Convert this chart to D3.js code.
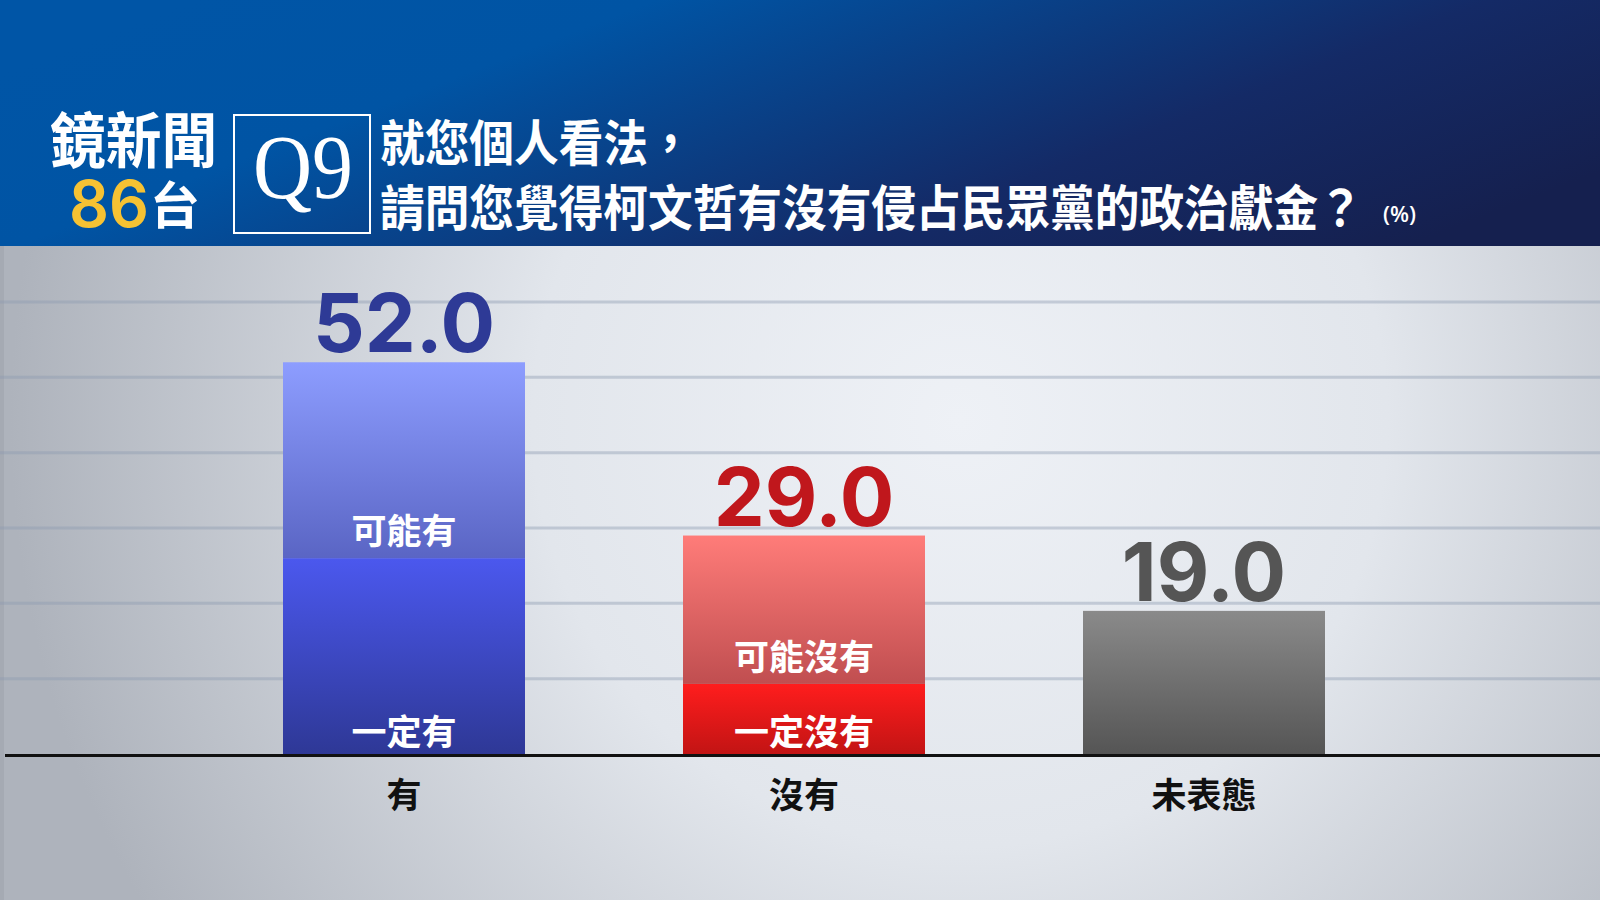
<!DOCTYPE html>
<html>
<head>
<meta charset="utf-8">
<script src="https://cdn.jsdelivr.net/npm/d3@7/dist/d3.min.js"></script>
<style>
  html, body { margin: 0; padding: 0; background: #ffffff; }
  svg { display: block; }
</style>
</head>
<body>
<div id="chart"></div>
<script>
// ---------- data ----------
const categories = ["有", "沒有", "未表態"];
const totals = [52.0, 29.0, 19.0];
const definiteValues = [26.0, 9.3, 19.0];   // bottom segment
const possibleValues = [26.0, 19.7, 0];     // top segment
const definiteLabels = ["一定有", "一定沒有", ""];
const possibleLabels = ["可能有", "可能沒有", ""];
const gridTicks = [10, 20, 30, 40, 50, 60];
const titleLine1 = "就您個人看法，";
const titleLine2 = "請問您覺得柯文哲有沒有侵占民眾黨的政治獻金？";
const unitLabel = "(%)";

// ---------- setup ----------
const W = 1600, H = 900;
const svg = d3.select("#chart").append("svg").attr("width", W).attr("height", H);
const defs = svg.append("defs");

function vGrad(id, top, bottom) {
  const g = defs.append("linearGradient").attr("id", id)
    .attr("x1", 0).attr("y1", 0).attr("x2", 0).attr("y2", 1);
  g.append("stop").attr("offset", "0%").attr("stop-color", top);
  g.append("stop").attr("offset", "100%").attr("stop-color", bottom);
}
vGrad("gPossible0", "#8D9DFF", "#5A65C4");
vGrad("gDefinite0", "#4B58EE", "#2E3896");
vGrad("gPossible1", "#FF7C79", "#C04E50");
vGrad("gDefinite1", "#FF1D1D", "#C21414");
vGrad("gDefinite2", "#8A8A8A", "#555555");

const hdr = defs.append("linearGradient").attr("id", "hdr")
  .attr("x1", 0).attr("y1", 0.3).attr("x2", 1).attr("y2", 0.7);
hdr.append("stop").attr("offset", "0%").attr("stop-color", "#0055A6");
hdr.append("stop").attr("offset", "25%").attr("stop-color", "#0054A4");
hdr.append("stop").attr("offset", "70%").attr("stop-color", "#142A66");
hdr.append("stop").attr("offset", "100%").attr("stop-color", "#15204F");

const bg = defs.append("radialGradient").attr("id", "bg")
  .attr("gradientUnits", "userSpaceOnUse")
  .attr("cx", 960).attr("cy", 420).attr("r", 950);
bg.append("stop").attr("offset", "0%").attr("stop-color", "#EEF1F6");
bg.append("stop").attr("offset", "45%").attr("stop-color", "#E2E6EC");
bg.append("stop").attr("offset", "100%").attr("stop-color", "#AEB3BC");

// background panel
svg.append("rect").attr("x", 0).attr("y", 0).attr("width", W).attr("height", H).attr("fill", "url(#bg)");
svg.append("rect").attr("x", 0).attr("y", 246).attr("width", 4).attr("height", H - 246)
  .attr("fill", "#9EA4AD").attr("opacity", 0.6);

// ---------- scales ----------
const y = d3.scaleLinear().domain([0, 60]).range([754, 302]);
const x = d3.scaleBand().domain(categories).range([204, 1404])
  .paddingInner(0.395).paddingOuter(0.1975);

// gridlines
svg.append("g").selectAll("line").data(gridTicks).join("line")
  .attr("x1", 0).attr("x2", W)
  .attr("y1", d => y(d)).attr("y2", d => y(d))
  .attr("stroke", "#8C9BB0").attr("stroke-opacity", 0.42).attr("stroke-width", 3);

// ---------- bars ----------
const cjk = "'Noto Sans CJK TC', 'Noto Sans CJK SC', sans-serif";
const gBars = svg.append("g");
categories.forEach((c, i) => {
  const x0 = x(c), bw = x.bandwidth(), cx = x0 + bw / 2;
  const d = definiteValues[i], p = possibleValues[i];
  gBars.append("rect").attr("x", x0).attr("width", bw)
    .attr("y", y(d)).attr("height", y(0) - y(d))
    .attr("fill", `url(#gDefinite${i})`);
  if (p > 0) {
    gBars.append("rect").attr("x", x0).attr("width", bw)
      .attr("y", y(d + p)).attr("height", y(d) - y(d + p))
      .attr("fill", `url(#gPossible${i})`);
  }
  if (definiteLabels[i]) {
    gBars.append("text").attr("x", cx).attr("y", y(0) - 9)
      .attr("text-anchor", "middle")
      .style("font-family", cjk)
      .style("font-weight", 700).style("font-size", "35px").attr("fill", "#ffffff")
      .text(definiteLabels[i]);
  }
  if (possibleLabels[i]) {
    gBars.append("text").attr("x", cx).attr("y", y(d) - 14)
      .attr("text-anchor", "middle")
      .style("font-family", cjk)
      .style("font-weight", 700).style("font-size", "35px").attr("fill", "#ffffff")
      .text(possibleLabels[i]);
  }
});

// value labels
const valueColors = ["#2E3A96", "#C0171C", "#555555"];
svg.append("g").selectAll("text").data(categories).join("text")
  .attr("x", c => x(c) + x.bandwidth() / 2)
  .attr("y", (c, i) => y(totals[i]) - 10)
  .attr("text-anchor", "middle")
  .style("font-family", "Inter, 'Open Sans', sans-serif")
  .style("font-weight", 700).style("font-size", "81px")
  .attr("fill", (c, i) => valueColors[i])
  .text((c, i) => totals[i].toFixed(1));

// baseline
svg.append("line").attr("x1", 5).attr("x2", W)
  .attr("y1", y(0) + 1.5).attr("y2", y(0) + 1.5)
  .attr("stroke", "#111111").attr("stroke-width", 3);

// category axis labels
svg.append("g").selectAll("text").data(categories).join("text")
  .attr("x", c => x(c) + x.bandwidth() / 2)
  .attr("y", 808)
  .attr("text-anchor", "middle")
  .style("font-family", cjk)
  .style("font-weight", 700).style("font-size", "35px").attr("fill", "#111111")
  .text(c => c);

// ---------- header ----------
svg.append("rect").attr("x", 0).attr("y", 0).attr("width", W).attr("height", 246).attr("fill", "url(#hdr)");

svg.append("text").attr("transform", "translate(50,163) scale(0.93,1)")
  .style("font-family", cjk).style("font-weight", 700).style("font-size", "60px")
  .attr("fill", "#ffffff").text("鏡新聞");
svg.append("text").attr("x", 69).attr("y", 227)
  .attr("textLength", 80).attr("lengthAdjust", "spacingAndGlyphs")
  .style("font-family", "Inter, sans-serif").style("font-weight", 600).style("font-size", "64px")
  .attr("fill", "#F6C233").text("86");
svg.append("text").attr("x", 150).attr("y", 224)
  .style("font-family", cjk).style("font-weight", 700).style("font-size", "50px")
  .attr("fill", "#ffffff").text("台");

// Q9 box
svg.append("rect").attr("x", 234).attr("y", 115).attr("width", 136).attr("height", 118)
  .attr("fill", "none").attr("stroke", "#ffffff").attr("stroke-width", 2);
svg.append("text").attr("x", 253).attr("y", 198)
  .attr("textLength", 100).attr("lengthAdjust", "spacingAndGlyphs")
  .style("font-family", "'Liberation Serif', 'DejaVu Serif', serif").style("font-size", "92px")
  .attr("fill", "#ffffff").text("Q9");

// title
svg.append("text").attr("transform", "translate(380,161) scale(0.912,1)")
  .style("font-family", cjk).style("font-weight", 700).style("font-size", "49px")
  .attr("fill", "#ffffff").text(titleLine1);
svg.append("text").attr("transform", "translate(380,226) scale(0.912,1)")
  .style("font-family", cjk).style("font-weight", 700).style("font-size", "49px")
  .attr("fill", "#ffffff").text(titleLine2);
svg.append("text").attr("x", 1383).attr("y", 222)
  .style("font-family", "'Open Sans', 'Noto Sans', sans-serif").style("font-weight", 600).style("font-size", "22px")
  .attr("fill", "#ffffff").text(unitLabel);
</script>
</body>
</html>
